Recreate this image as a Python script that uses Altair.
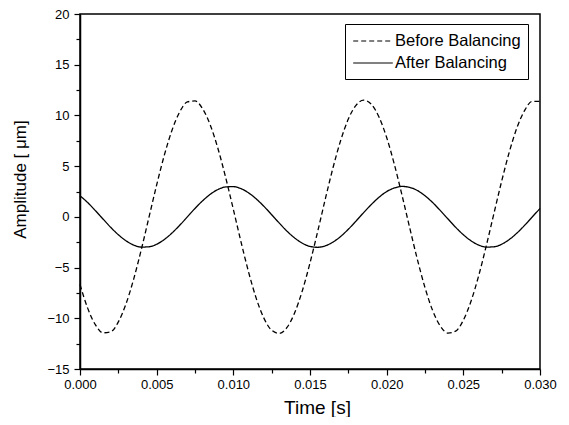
import altair as alt
import pandas as pd

time_s = [round(0.0005 * i, 4) for i in range(61)]

before = [-6.67, -9.00, -10.63, -11.43, -11.34, -10.36, -8.58, -6.14, -3.21, -0.03,
          3.15, 6.08, 8.54, 10.34, 11.33, 11.43, 10.65, 9.04, 6.72, 3.88,
          0.74, -2.46, -5.47, -8.06, -10.01, -11.18, -11.49, -10.90, -9.46, -7.28,
          -4.54, -1.45, 1.77, 4.84, 7.53, 9.64, 11.00, 11.50, 11.10, 9.84,
          7.82, 5.18, 2.14, -1.06, -4.18, -6.98, -9.24, -10.77, -11.46, -11.27,
          -10.19, -8.32, -5.81, -2.83, 0.36, 3.52, 6.41, 8.80, 10.50, 11.39, 11.39]

after = [2.08, 1.41, 0.62, -0.21, -1.03, -1.76, -2.36, -2.78, -2.98, -2.95,
         -2.70, -2.23, -1.59, -0.83, 0.00, 0.83, 1.59, 2.23, 2.70, 2.95,
         2.98, 2.78, 2.36, 1.76, 1.03, 0.21, -0.62, -1.41, -2.08, -2.60,
         -2.91, -3.00, -2.85, -2.49, -1.93, -1.22, -0.42, 0.42, 1.22, 1.93,
         2.49, 2.85, 3.00, 2.91, 2.60, 2.08, 1.41, 0.62, -0.21, -1.03,
         -1.76, -2.36, -2.78, -2.98, -2.95, -2.70, -2.23, -1.59, -0.83, 0.00, 0.83]

series_names = ["Before Balancing", "After Balancing"]
x_major = [0.000, 0.005, 0.010, 0.015, 0.020, 0.025, 0.030]
x_minor = [0.0025, 0.0075, 0.0125, 0.0175, 0.0225, 0.0275]
y_major = [-15, -10, -5, 0, 5, 10, 15, 20]
y_minor = [-12.5, -7.5, -2.5, 2.5, 7.5, 12.5, 17.5]

rows = []
for t, b, a in zip(time_s, before, after):
    rows.append({"t": t, "amp": b, "series": series_names[0]})
    rows.append({"t": t, "amp": a, "series": series_names[1]})
df = pd.DataFrame(rows)

FONT = "Liberation Sans"

xscale = alt.Scale(domain=[0, 0.030], nice=False, zero=False)
yscale = alt.Scale(domain=[-15, 20], nice=False, zero=False)

lines = alt.Chart(df).mark_line(color="black", strokeWidth=1.3, interpolate="monotone").encode(
    x=alt.X("t:Q", scale=xscale,
            axis=alt.Axis(values=x_major, format=".3f", title="Time [s]", orient="bottom",
                          tickSize=6, labelPadding=3, grid=False, labelFlush=False,
                          titleFontSize=19,
                          titleX=237, titleY=44, titleBaseline="alphabetic")),
    y=alt.Y("amp:Q", scale=yscale,
            axis=alt.Axis(values=y_major, format="d", title="Amplitude [ μm]", orient="left",
                          tickSize=6, labelPadding=5, grid=False, labelFlush=False,
                          titleFontSize=17,
                          titleX=-60, titleY=165, titleBaseline="middle")),
    strokeDash=alt.StrokeDash("series:N",
                              scale=alt.Scale(domain=series_names, range=[[5, 3], [1, 0]]),
                              sort=series_names,
                              legend=alt.Legend(title=None, orient="none", legendX=265, legendY=10,
                                                symbolType="M-2.2,0H2.2", symbolSize=324,
                                                symbolOffset=11,
                                                symbolStrokeWidth=1.2, symbolStrokeColor="black",
                                                labelFontSize=16.5, labelFont=FONT, labelColor="black",
                                                strokeColor="black", fillColor="white",
                                                padding=7, rowPadding=3, labelOffset=12)),
    detail="series:N",
)

minor = alt.Chart(df).mark_point(opacity=0).encode(
    x=alt.X("t:Q", scale=xscale,
            axis=alt.Axis(values=x_minor, labels=False, title=None, orient="bottom",
                          tickSize=4, grid=False, domain=False)),
    y=alt.Y("amp:Q", scale=yscale,
            axis=alt.Axis(values=y_minor, labels=False, title=None, orient="left",
                          tickSize=4, grid=False, domain=False)),
)

chart = alt.layer(lines, minor).resolve_axis(x="independent", y="independent").properties(
    width=460, height=355,
    autosize=alt.AutoSizeParams(type="none"),
    padding={"left": 72, "top": 6, "right": 21, "bottom": 48},
).configure_view(
    stroke="black", strokeWidth=1.5
).configure_axis(
    labelFont=FONT, titleFont=FONT, labelFontSize=13,
    labelColor="black", titleColor="black", titleFontWeight="normal",
    domainColor="black", domainWidth=1.5, tickColor="black", tickWidth=1.2,
)

chart.save("out.html", embed_options={"renderer": "svg", "actions": False})
